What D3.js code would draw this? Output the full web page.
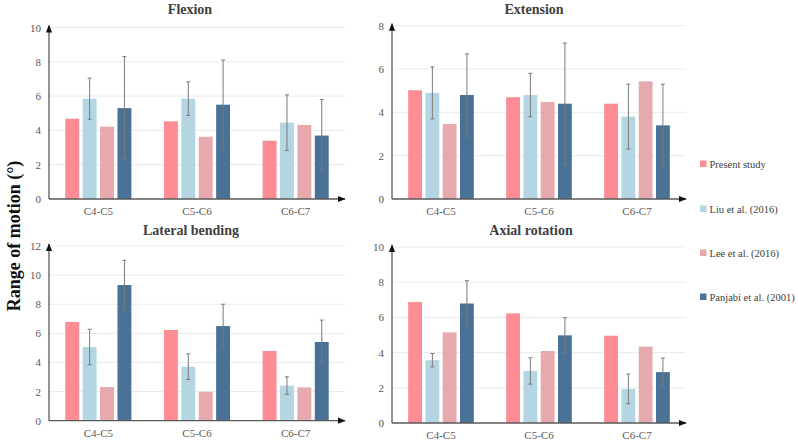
<!DOCTYPE html>
<html>
<head>
<meta charset="UTF-8">
<script src="https://cdn.jsdelivr.net/npm/d3@7"></script>
<style>
  body { margin: 0; background: #fff; }
</style>
</head>
<body>
<svg id="chart" width="798" height="444" font-family="Liberation Serif, Times New Roman, Times, DejaVu Serif, serif"></svg>
<script>
// levels and studies
const levels = ["C4-C5", "C5-C6", "C6-C7"];
const studies = ["Present study", "Liu et al. (2016)", "Lee et al. (2016)", "Panjabi et al. (2001)"];
const colors = ["#fe8c94", "#b4d6e3", "#e6a9ae", "#4a7297"];

// values per study, each row = study, each col = level (degrees)
const flexion = [[4.68, 4.53, 3.4], [5.85, 5.85, 4.45], [4.22, 3.63, 4.32], [5.3, 5.5, 3.7]];
const flexionErr = [null, [1.2, 0.98, 1.62], null, [3.0, 2.6, 2.1]];
const extension = [[5.02, 4.7, 4.4], [4.9, 4.8, 3.8], [3.46, 4.48, 5.43], [4.8, 4.4, 3.4]];
const extensionErr = [null, [1.2, 1.0, 1.5], null, [1.9, 2.8, 1.9]];
const lateral = [[6.78, 6.23, 4.79], [5.06, 3.71, 2.41], [2.31, 1.99, 2.29], [9.32, 6.5, 5.41]];
const lateralErr = [null, [1.22, 0.88, 0.6], null, [1.7, 1.5, 1.5]];
const axial = [[6.87, 6.23, 4.96], [3.57, 2.96, 1.94], [5.15, 4.09, 4.34], [6.79, 4.98, 2.89]];
const axialErr = [null, [0.38, 0.75, 0.84], null, [1.3, 1.0, 0.8]];

const panels = [
  { title: "Flexion", vals: flexion, errs: flexionErr, max: 10, left: 49, right: 345, top: 27.5, bottom: 199, tx: 190, ty: 14 },
  { title: "Extension", vals: extension, errs: extensionErr, max: 8, left: 392, right: 686, top: 25.7, bottom: 199, tx: 534, ty: 14 },
  { title: "Lateral bending", vals: lateral, errs: lateralErr, max: 12, left: 49, right: 345, top: 246, bottom: 420.7, tx: 191, ty: 235 },
  { title: "Axial rotation", vals: axial, errs: axialErr, max: 10, left: 392, right: 686, top: 247, bottom: 423, tx: 531, ty: 235 }
];

const svg = d3.select("#chart");
const defs = svg.append("defs");
defs.append("marker").attr("id", "arr")
  .attr("viewBox", "0 0 10 10").attr("refX", 9).attr("refY", 5)
  .attr("markerWidth", 6).attr("markerHeight", 6).attr("orient", "auto")
  .append("path").attr("d", "M0,1 L10,5 L0,9 Z").attr("fill", "#111");

panels.forEach(p => {
  const g = svg.append("g");
  const y = d3.scaleLinear().domain([0, p.max]).range([p.bottom, p.top]);
  const x0 = d3.scaleBand().domain(levels).range([p.left, p.right]).paddingInner(0.33).paddingOuter(0.165);
  const x1 = d3.scaleBand().domain(d3.range(studies.length)).range([0, x0.bandwidth()]).paddingInner(0.2);

  const ticks = d3.range(0, p.max + 1, 2);
  // gridlines
  g.selectAll(".grid").data(ticks.filter(t => t > 0)).enter().append("line")
    .attr("x1", p.left).attr("x2", p.right)
    .attr("y1", d => y(d)).attr("y2", d => y(d))
    .attr("stroke", "#ebebeb").attr("stroke-width", 1);
  g.selectAll(".tl").data(ticks).enter().append("text")
    .attr("x", p.left - 8).attr("y", d => y(d) + 4)
    .attr("text-anchor", "end").attr("font-size", 11).attr("fill", "#595959")
    .text(d => d);

  // bars
  p.vals.forEach((row, si) => {
    g.selectAll(".b" + si).data(row).enter().append("rect")
      .attr("x", (d, i) => x0(levels[i]) + x1(si))
      .attr("width", x1.bandwidth())
      .attr("y", d => y(d))
      .attr("height", d => p.bottom - y(d))
      .attr("fill", colors[si]);
    const err = p.errs[si];
    if (err) {
      row.forEach((d, i) => {
        const cx = x0(levels[i]) + x1(si) + x1.bandwidth() / 2;
        const e = g.append("g").attr("stroke", "#7a7a7a").attr("stroke-width", 1);
        e.append("line").attr("x1", cx).attr("x2", cx).attr("y1", y(d + err[i])).attr("y2", y(d - err[i]));
        e.append("line").attr("x1", cx - 2).attr("x2", cx + 2).attr("y1", y(d + err[i])).attr("y2", y(d + err[i]));
        e.append("line").attr("x1", cx - 2).attr("x2", cx + 2).attr("y1", y(d - err[i])).attr("y2", y(d - err[i]));
      });
    }
  });

  // axes with arrows
  g.append("line").attr("x1", p.left).attr("x2", p.left).attr("y1", p.bottom).attr("y2", p.top - 2)
    .attr("stroke", "#595959").attr("stroke-width", 1.3).attr("marker-end", "url(#arr)");
  g.append("line").attr("x1", p.left).attr("x2", p.right).attr("y1", p.bottom).attr("y2", p.bottom)
    .attr("stroke", "#595959").attr("stroke-width", 1.3).attr("marker-end", "url(#arr)");

  g.selectAll(".cl").data(levels).enter().append("text")
    .attr("x", d => x0(d) + x0.bandwidth() / 2).attr("y", p.bottom + 16)
    .attr("text-anchor", "middle").attr("font-size", 11).attr("fill", "#595959")
    .text(d => d);

  g.append("text").attr("x", p.tx).attr("y", p.ty)
    .attr("text-anchor", "middle").attr("font-size", 14).attr("font-weight", "bold").attr("fill", "#404040")
    .text(p.title);
});

// y axis title
svg.append("text")
  .attr("transform", "translate(20,236) rotate(-90)")
  .attr("text-anchor", "middle").attr("font-size", 18).attr("font-weight", "bold").attr("fill", "#111")
  .text("Range of motion (°)");

// legend
const legY = [164, 209, 253, 297];
const leg = svg.append("g");
studies.forEach((s, i) => {
  leg.append("rect").attr("x", 700).attr("y", legY[i] - 3.5).attr("width", 6.5).attr("height", 6.5).attr("fill", colors[i]);
  leg.append("text").attr("x", 709.5).attr("y", legY[i] + 4)
    .attr("font-size", 10.5).attr("fill", "#404040").text(s);
});
</script>
</body>
</html>
